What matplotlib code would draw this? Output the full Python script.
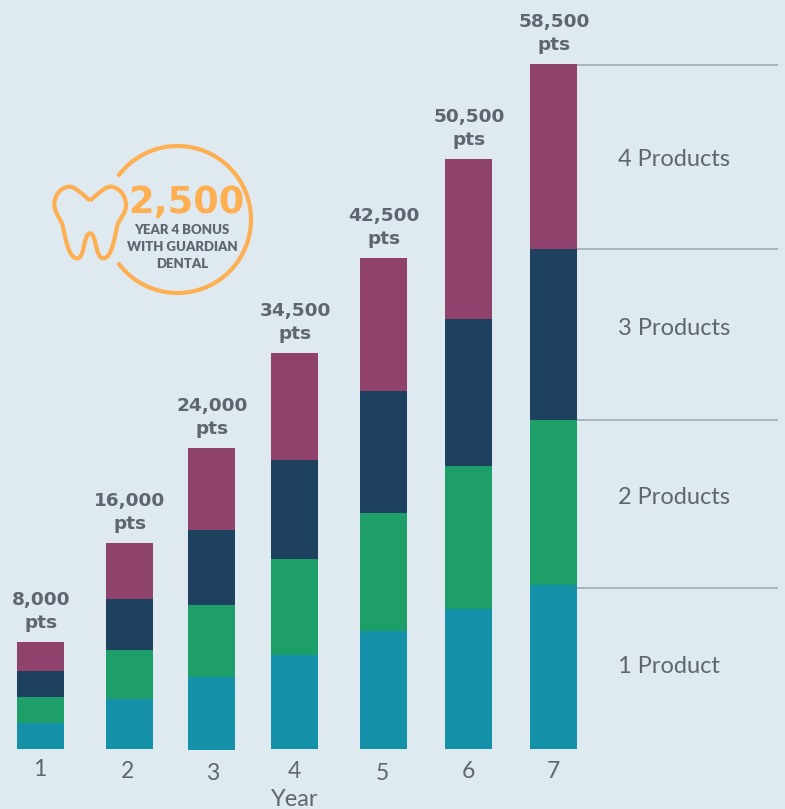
import matplotlib
matplotlib.use("Agg")
import matplotlib.pyplot as plt
from matplotlib.patches import Arc, PathPatch
from matplotlib.path import Path

# Segment values (axis is not proportional to the printed totals)
years = ["1", "2", "3", "4", "5", "6", "7"]
totals = ["8,000", "16,000", "24,000", "34,500", "42,500", "50,500", "58,500"]
product_1 = [26, 50, 73, 94, 118, 140, 164]
product_2 = [26, 49, 72, 96, 118, 143, 165]
product_3 = [26, 51, 75, 99, 122, 147, 171]
product_4 = [29, 56, 82, 107, 133, 160, 185]
series = [product_1, product_2, product_3, product_4]
series_names = ["1 Product", "2 Products", "3 Products", "4 Products"]
colors = ["#1590A9", "#1E9E68", "#1D415E", "#8F426C"]

BG = "#DEE9F0"; TXT = "#5F6670"; ORANGE = "#FDAF52"; RULE = "#9AA7AF"
bar_x = [40.5, 129.5, 211.5, 294.5, 383.5, 468.5, 553.5]
bar_base = [0, 0, -1, 0, 0, 0, 0]
tick_x = [40, 128, 213, 294, 382, 468, 553]
tick_y = [-21, -22, -25, -23, -25, -23, -23]
rule_y = [161, 329.5, 500, 684]
label_y = [82.5, 251.5, 420.5, 589.5]
BASE = 749
BOLD = ["DejaVu Sans"]

plt.rcParams["font.family"] = ["Lato", "DejaVu Sans"]
fig = plt.figure(figsize=(7.85, 8.09), dpi=100, facecolor=BG)
ax = fig.add_axes([0, 0, 1, 1])
ax.set_xlim(0, 785); ax.set_ylim(BASE - 809, BASE); ax.axis("off")

bottoms = list(bar_base)
for vals, c in zip(series, colors):
    ax.bar(bar_x, vals, width=47, bottom=bottoms, color=c, linewidth=0)
    bottoms = [b + v for b, v in zip(bottoms, vals)]

for x, top, t in zip(bar_x, bottoms, totals):
    ax.text(x + 0.5, top + 42, t, ha="center", va="center", fontsize=13.3, fontweight="bold",
            color=TXT, family=BOLD)
    ax.text(x + 0.5, top + 19, "pts", ha="center", va="center", fontsize=13.3, fontweight="bold",
            color=TXT, family=BOLD)
for x, y, t in zip(tick_x, tick_y, years):
    ax.text(x, y, t, ha="center", va="center", fontsize=16.5, color=TXT)
ax.text(295, -50, "Year", ha="center", va="center", fontsize=17, color=TXT)

for y in rule_y:
    ax.plot([577, 778], [y, y], color=RULE, lw=1.1, solid_capstyle="butt")
for y, name in zip(label_y, series_names):
    ax.text(618, y, name, ha="left", va="center", fontsize=17, color=TXT)

# Badge
def P(x, y):
    return (x, BASE - y)
ax.add_patch(Arc(P(177.5, 219.5), 147, 147, theta1=-144, theta2=144, color=ORANGE, lw=3))
zoom = lambda zx, zy: P(40 + zx / 3, 130 + zy / 3)
pts = [(150, 212),
       (120, 185), (100, 168), (85, 170),
       (55, 175), (42, 205), (43, 225),
       (45, 250), (60, 265), (68, 285),
       (75, 320), (85, 385), (112, 385),
       (135, 385), (130, 310), (150, 310),
       (170, 310), (165, 385), (190, 385),
       (215, 385), (225, 320), (232, 285),
       (240, 265), (258, 250), (258, 225),
       (258, 205), (245, 175), (215, 170),
       (200, 168), (180, 185), (150, 212)]
codes = [Path.MOVETO] + [Path.CURVE4] * (len(pts) - 1)
ax.add_patch(PathPatch(Path([zoom(*p) for p in pts], codes), fc="none", ec=ORANGE, lw=3))
ax.text(186.5, BASE - 202, "2,500", ha="center", va="center", fontsize=26.5, fontweight="bold",
        color=ORANGE, family=BOLD)
for y, t in zip([230, 247, 264], ["YEAR 4 BONUS", "WITH GUARDIAN", "DENTAL"]):
    ax.text(182, BASE - y, t, ha="center", va="center", fontsize=9.5, fontweight="heavy", color=TXT)

fig.savefig("out.png", dpi=100, facecolor=BG)
